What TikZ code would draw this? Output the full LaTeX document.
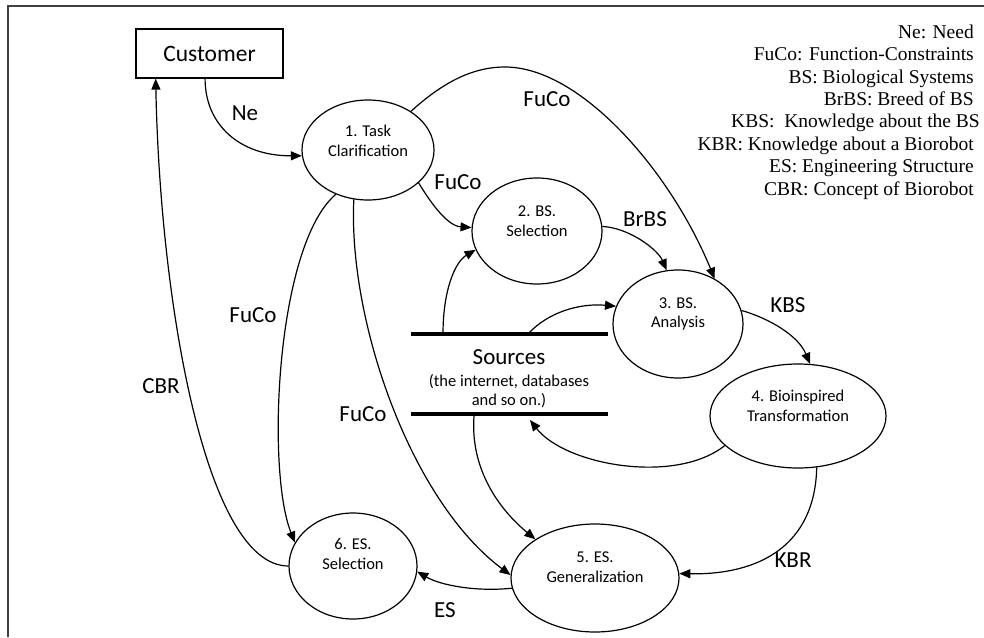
\documentclass[tikz,border=0pt]{standalone}
\usepackage{fontspec}
\setmainfont{Liberation Serif}
\newfontfamily\diagfont{Carlito}
\usetikzlibrary{arrows.meta,shapes.geometric}

\begin{document}
\begin{tikzpicture}[x=1pt,y=-1pt,
  stage/.style={draw, ellipse, line width=1.2pt, inner sep=0pt},
  stagetext/.style={font=\diagfont\fontsize{16.5}{19.5}\selectfont, align=center, inner sep=0pt},
  actor/.style={draw, line width=1.2pt, minimum width=147pt, minimum height=49pt, inner sep=0pt,
                font=\diagfont\fontsize{23.5}{26}\selectfont},
  flow/.style={line width=1.2pt, -{Triangle[length=11pt,width=9pt]}},
  flowlabel/.style={font=\diagfont\fontsize{23}{26}\selectfont, inner sep=0pt},
  storetext/.style={font=\diagfont\fontsize{16.5}{19.5}\selectfont, inner sep=0pt},
  legendline/.style={font=\fontsize{19.5}{22.4}\selectfont, anchor=base east, inner sep=0pt},
  store/.style={line width=4pt}
]
\useasboundingbox (0,0) rectangle (984,637);
\fill[white] (0,0) rectangle (984,637);

% frame
\draw[line width=1.2pt, black!75] (984,6) -- (8,6) -- (8,637);

% customer
\node[actor] (c) at (209.5,53.5) {Customer};

% process stages
\node[stage, minimum width=132pt, minimum height=100pt] (s1) at (368,150) {};
\node[stagetext] (s1t) at ([yshift=9]s1.center) {1. Task\\Clarification};
\node[stage, minimum width=130pt, minimum height=106pt] (s2) at (537,231) {};
\node[stagetext] (s2t) at ([yshift=10]s2.center) {2. BS.\\Selection};
\node[stage, minimum width=130pt, minimum height=108pt] (s3) at (678,324) {};
\node[stagetext] (s3t) at ([yshift=10]s3.center) {3. BS.\\Analysis};
\node[stage, minimum width=176pt, minimum height=104pt] (s4) at (798,416) {};
\node[stagetext] (s4t) at ([yshift=10]s4.center) {4. Bioinspired\\Transformation};
\node[stage, minimum width=168pt, minimum height=108pt] (s5) at (595,578) {};
\node[stagetext] (s5t) at ([yshift=11]s5.center) {5. ES.\\Generalization};
\node[stage, minimum width=128pt, minimum height=106pt] (s6) at (353,566) {};
\node[stagetext] (s6t) at ([yshift=12]s6.center) {6. ES.\\Selection};

% data store
\coordinate (stTL) at (411,334);
\coordinate (stTR) at (608,334);
\coordinate (stBL) at (411,414);
\coordinate (stBR) at (608,414);
\draw[store] (stTL) -- (stTR);
\draw[store] (stBL) -- (stBR);
\node[flowlabel] (srcA) at (509,357) {Sources};
\node[storetext] (srcB) at (509,382) {(the internet, databases};
\node[storetext] (srcC) at (509,401) {and so on.)};
\coordinate (sq1) at (443,334);
\coordinate (sq2) at (528,334);
\coordinate (sq3) at (474,416);
\coordinate (sin) at (530,420);
\coordinate (arcTop) at (505,67);

% flows
\draw[flow] (c.-100) .. controls (205,125) and (240,156) .. (s1.185);
\draw[flow] (s1.42) .. controls (440,85) and (470,67) .. (arcTop)
            .. controls (580,67) and (670,170) .. (s3.51);
\draw[flow] (s1.-33) .. controls (432,205) and (448,226) .. (s2.177);
\draw[flow] (sq1) .. controls (443,290) and (455,262) .. (s2.197);
\draw[flow] (s2.4) .. controls (630,228) and (658,250) .. (s3.102);
\draw[flow] (sq2) .. controls (548,312) and (580,303) .. (s3.164);
\draw[flow] (s3.12) .. controls (768,318) and (798,335) .. (s4.77);
\draw[flow] (s4.202) .. controls (675,485) and (565,465) .. (sin);
\draw[flow] (s4.-70) .. controls (815,545) and (760,575) .. (s5.3);
\draw[flow] (sq3) .. controls (470,470) and (500,510) .. (s5.147);
\draw[flow] (s1.-106) .. controls (348,320) and (410,500) .. (s5.178);
\draw[flow] (s1.-126) .. controls (276,245) and (266,470) .. (s6.158);
\draw[flow] (s6.180) .. controls (205,566) and (160,300) .. (c.-155);
\draw[flow] (s5.187) .. controls (475,592) and (440,585) .. (s6.-5);

% flow labels
\node[flowlabel] (lNe) at (245,113) {Ne};
\node[flowlabel] (lFu1) at (547,99) {FuCo};
\node[flowlabel] (lFu2) at (458,182) {FuCo};
\node[flowlabel] (lBr) at (645,219) {BrBS};
\node[flowlabel] (lKBS) at (788,305) {KBS};
\node[flowlabel] (lFu3) at (253,315) {FuCo};
\node[flowlabel] (lCBR) at (161,386) {CBR};
\node[flowlabel] (lFu4) at (363,414) {FuCo};
\node[flowlabel] (lES) at (445,610) {ES};
\node[flowlabel] (lKBR) at (793,560) {KBR};

% abbreviations
\node[legendline] (g1) at (974,38.3) {Ne: Need};
\node[legendline] (g2) at (974,60.7) {FuCo: Function-Constraints};
\node[legendline] (g3) at (974,83.1) {BS: Biological Systems};
\node[legendline] (g4) at (974,105.5) {BrBS: Breed of BS};
\node[legendline] (g5) at (980,127.9) {KBS:\ \ Knowledge about the BS};
\node[legendline] (g6) at (974,150.3) {KBR: Knowledge about a Biorobot};
\node[legendline] (g7) at (974,172.7) {ES: Engineering Structure};
\node[legendline] (g8) at (974,195.1) {CBR: Concept of Biorobot};
\end{tikzpicture}
\end{document}
